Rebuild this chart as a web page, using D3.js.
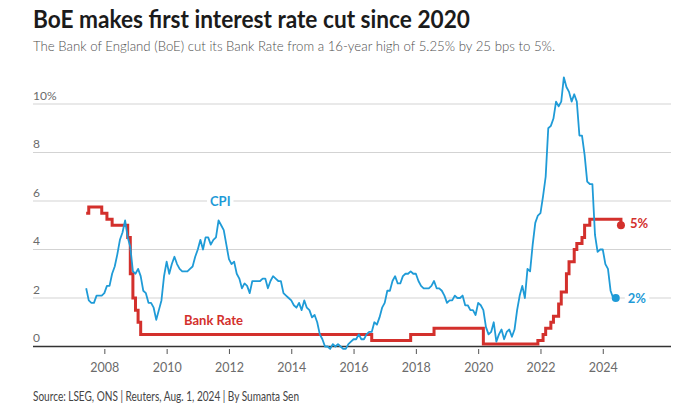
<!DOCTYPE html>
<html>
<head>
<meta charset="utf-8">
<script src="https://cdn.jsdelivr.net/npm/d3@7"></script>
<style>
  html, body { margin: 0; padding: 0; background: #fff; }
  svg { display: block; font-family: Lato, "Open Sans", sans-serif; }
</style>
</head>
<body>
<svg id="chart" width="700" height="412"></svg>
<script>
// ---------------- DATA ----------------
const titleText = "BoE makes first interest rate cut since 2020";
const subtitleText = "The Bank of England (BoE) cut its Bank Rate from a 16-year high of 5.25% by 25 bps to 5%.";
const sourceText = "Source: LSEG, ONS | Reuters, Aug. 1, 2024 | By Sumanta Sen";

const xTickYears = [2008, 2010, 2012, 2014, 2016, 2018, 2020, 2022, 2024];
const xTickLabels = ["2008", "2010", "2012", "2014", "2016", "2018", "2020", "2022", "2024"];
const yTickValues = [0, 2, 4, 6, 8, 10];
const yTickLabels = ["0", "2", "4", "6", "8", "10%"];

// UK CPI annual rate, monthly, June 2007 .. June 2024
const cpiStart = "2007-06";
const cpiValues = [
  2.4, 1.9, 1.8, 1.8, 2.1, 2.1, 2.1,
  2.2, 2.5, 2.5, 3.0, 3.3, 3.8, 4.4, 4.7, 5.2, 4.5, 4.1, 3.1,
  3.0, 3.2, 2.9, 2.3, 2.2, 1.8, 1.8, 1.6, 1.1, 1.5, 1.9, 2.9,
  3.5, 3.0, 3.4, 3.7, 3.4, 3.2, 3.1, 3.1, 3.1, 3.2, 3.3, 3.7,
  4.0, 4.4, 4.0, 4.5, 4.5, 4.2, 4.4, 4.5, 5.2, 5.0, 4.8, 4.2,
  3.6, 3.4, 3.5, 3.0, 2.8, 2.4, 2.6, 2.5, 2.2, 2.7, 2.7, 2.7,
  2.7, 2.8, 2.8, 2.4, 2.7, 2.9, 2.8, 2.7, 2.7, 2.2, 2.1, 2.0,
  1.9, 1.7, 1.6, 1.8, 1.5, 1.9, 1.6, 1.5, 1.2, 1.3, 1.0, 0.5,
  0.3, 0.0, 0.0, -0.1, 0.1, 0.0, 0.1, 0.0, -0.1, -0.1, 0.1, 0.2,
  0.3, 0.3, 0.5, 0.3, 0.3, 0.5, 0.6, 0.6, 1.0, 0.9, 1.2, 1.6,
  1.8, 2.3, 2.3, 2.7, 2.9, 2.6, 2.6, 2.9, 3.0, 3.0, 3.1, 3.0,
  3.0, 2.7, 2.5, 2.4, 2.4, 2.4, 2.5, 2.7, 2.4, 2.4, 2.3, 2.1,
  1.8, 1.9, 1.9, 2.1, 2.0, 2.0, 2.1, 1.7, 1.7, 1.5, 1.5, 1.3,
  1.8, 1.7, 1.5, 0.8, 0.5, 0.6, 1.0, 0.2, 0.5, 0.7, 0.3, 0.6,
  0.7, 0.4, 0.7, 1.5, 2.1, 2.5, 2.0, 3.2, 3.1, 4.2, 5.1, 5.4,
  5.5, 6.2, 7.0, 9.0, 9.1, 9.4, 10.1, 9.9, 10.1, 11.1, 10.7, 10.5,
  10.1, 10.4, 10.1, 8.7, 8.7, 7.9, 6.8, 6.7, 6.7, 4.6, 3.9, 4.0,
  4.0, 3.4, 3.2, 2.3, 2.0, 2.0
];

// Bank Rate changes (month, rate %)
const rateMonths = [
  "2007-06", "2007-07", "2007-12", "2008-02", "2008-04", "2008-10", "2008-11", "2008-12",
  "2009-01", "2009-02", "2009-03", "2016-08", "2017-11", "2018-08", "2020-03", "2021-12",
  "2022-02", "2022-03", "2022-05", "2022-06", "2022-08", "2022-09", "2022-11", "2022-12",
  "2023-02", "2023-03", "2023-05", "2023-06", "2023-08", "2024-08"
];
const rateValues = [
  5.5, 5.75, 5.5, 5.25, 5.0, 4.5, 3.0, 2.0,
  1.5, 1.0, 0.5, 0.25, 0.5, 0.75, 0.1, 0.25,
  0.5, 0.75, 1.0, 1.25, 1.75, 2.25, 3.0, 3.5,
  4.0, 4.25, 4.5, 5.0, 5.25, 5.0
];

// ---------------- CHART ----------------
const blue = "#1f9bd7";
const red = "#d3302c";

const toYear = s => { const [y, m] = s.split("-").map(Number); return y + (m - 1) / 12; };
const startYr = toYear(cpiStart);
const cpi = cpiValues.map((v, i) => ({ t: startYr + i / 12, v }));
const rate = rateMonths.map((m, i) => ({ t: toYear(m), v: rateValues[i] }));

const svg = d3.select("#chart");
const x = d3.scaleLinear().domain([2005.71, 2026.19]).range([33, 671]);
const y = d3.scaleLinear().domain([0, 10]).range([346.5, 104]);

function fitText(sel, target) {
  const w = sel.node().getComputedTextLength();
  if (Math.abs(w - target) > 1) sel.attr("textLength", target).attr("lengthAdjust", "spacingAndGlyphs");
}

// Title / subtitle
fitText(svg.append("text").attr("x", 33).attr("y", 28)
  .attr("font-size", 25).attr("font-weight", 700).attr("fill", "#1b1b1b").text(titleText), 437);
fitText(svg.append("text").attr("x", 33).attr("y", 51)
  .attr("font-size", 14.5).attr("font-weight", 300).attr("fill", "#505050").text(subtitleText), 522);

// Gridlines
const grid = svg.append("g");
grid.selectAll("line").data(yTickValues.filter(d => d > 0)).join("line")
  .attr("x1", 33).attr("x2", 671)
  .attr("y1", d => y(d)).attr("y2", d => y(d))
  .attr("stroke", "#d3d3d3").attr("stroke-width", 1);

// Y labels
svg.append("g").selectAll("text").data(yTickValues).join("text")
  .attr("x", 33).attr("y", d => y(d) - 4.5)
  .attr("font-size", 12).attr("fill", "#6b6b6b")
  .text((d, i) => yTickLabels[i]);

// X axis
const xAxis = d3.axisBottom(x).tickValues(xTickYears)
  .tickFormat((d, i) => xTickLabels[i]).tickSize(5).tickPadding(9);
const gx = svg.append("g").attr("transform", `translate(0,${y(0) + 2.5})`).call(xAxis);
gx.select(".domain").remove();
gx.selectAll(".tick line").attr("stroke", "#555").attr("stroke-width", 1);
gx.selectAll(".tick text").attr("font-size", 12.5).attr("fill", "#6b6b6b")
  .attr("font-family", "Lato, sans-serif");
svg.append("line").attr("x1", 33).attr("x2", 671)
  .attr("y1", y(0)).attr("y2", y(0)).attr("stroke", "#333").attr("stroke-width", 1.5);

// Bank rate
svg.append("path").datum(rate)
  .attr("fill", "none").attr("stroke", red).attr("stroke-width", 3)
  .attr("stroke-linejoin", "miter")
  .attr("d", d3.line().x(d => x(d.t)).y(d => y(d.v)).curve(d3.curveStepAfter));

// CPI
svg.append("path").datum(cpi)
  .attr("fill", "none").attr("stroke", blue).attr("stroke-width", 1.8)
  .attr("stroke-linejoin", "round")
  .attr("d", d3.line().x(d => x(d.t)).y(d => y(d.v)));

// End dots
const lastRate = rate[rate.length - 1];
const lastCpi = cpi[cpi.length - 1];
svg.append("circle").attr("cx", x(lastRate.t)).attr("cy", y(lastRate.v)).attr("r", 4).attr("fill", red);
svg.append("circle").attr("cx", x(lastCpi.t)).attr("cy", y(lastCpi.v)).attr("r", 4).attr("fill", blue);

// Series labels (with white knockout behind)
function label(txt, cx, cy, color, size, knock) {
  const t = svg.append("text").attr("x", cx).attr("y", cy).attr("dy", "0.35em")
    .attr("font-size", size).attr("font-weight", 700).attr("fill", color).text(txt);
  if (knock) {
    const bb = t.node().getBBox();
    svg.insert("rect", () => t.node()).attr("x", bb.x - 3).attr("y", bb.y)
      .attr("width", bb.width + 6).attr("height", bb.height).attr("fill", "#fff");
  }
  return t;
}
label("CPI", 210, y(6), blue, 13, true);
label("Bank Rate", 184, 320, red, 13, false);
label(lastRate.v + "%", x(lastRate.t) + 9, y(lastRate.v) - 2, red, 13, false);
label(lastCpi.v + "%", x(lastCpi.t) + 12, y(lastCpi.v), blue, 13, true);

// Source
fitText(svg.append("text").attr("x", 33).attr("y", 401)
  .attr("font-size", 12.5).attr("fill", "#444").text(sourceText), 266);
</script>
</body>
</html>
